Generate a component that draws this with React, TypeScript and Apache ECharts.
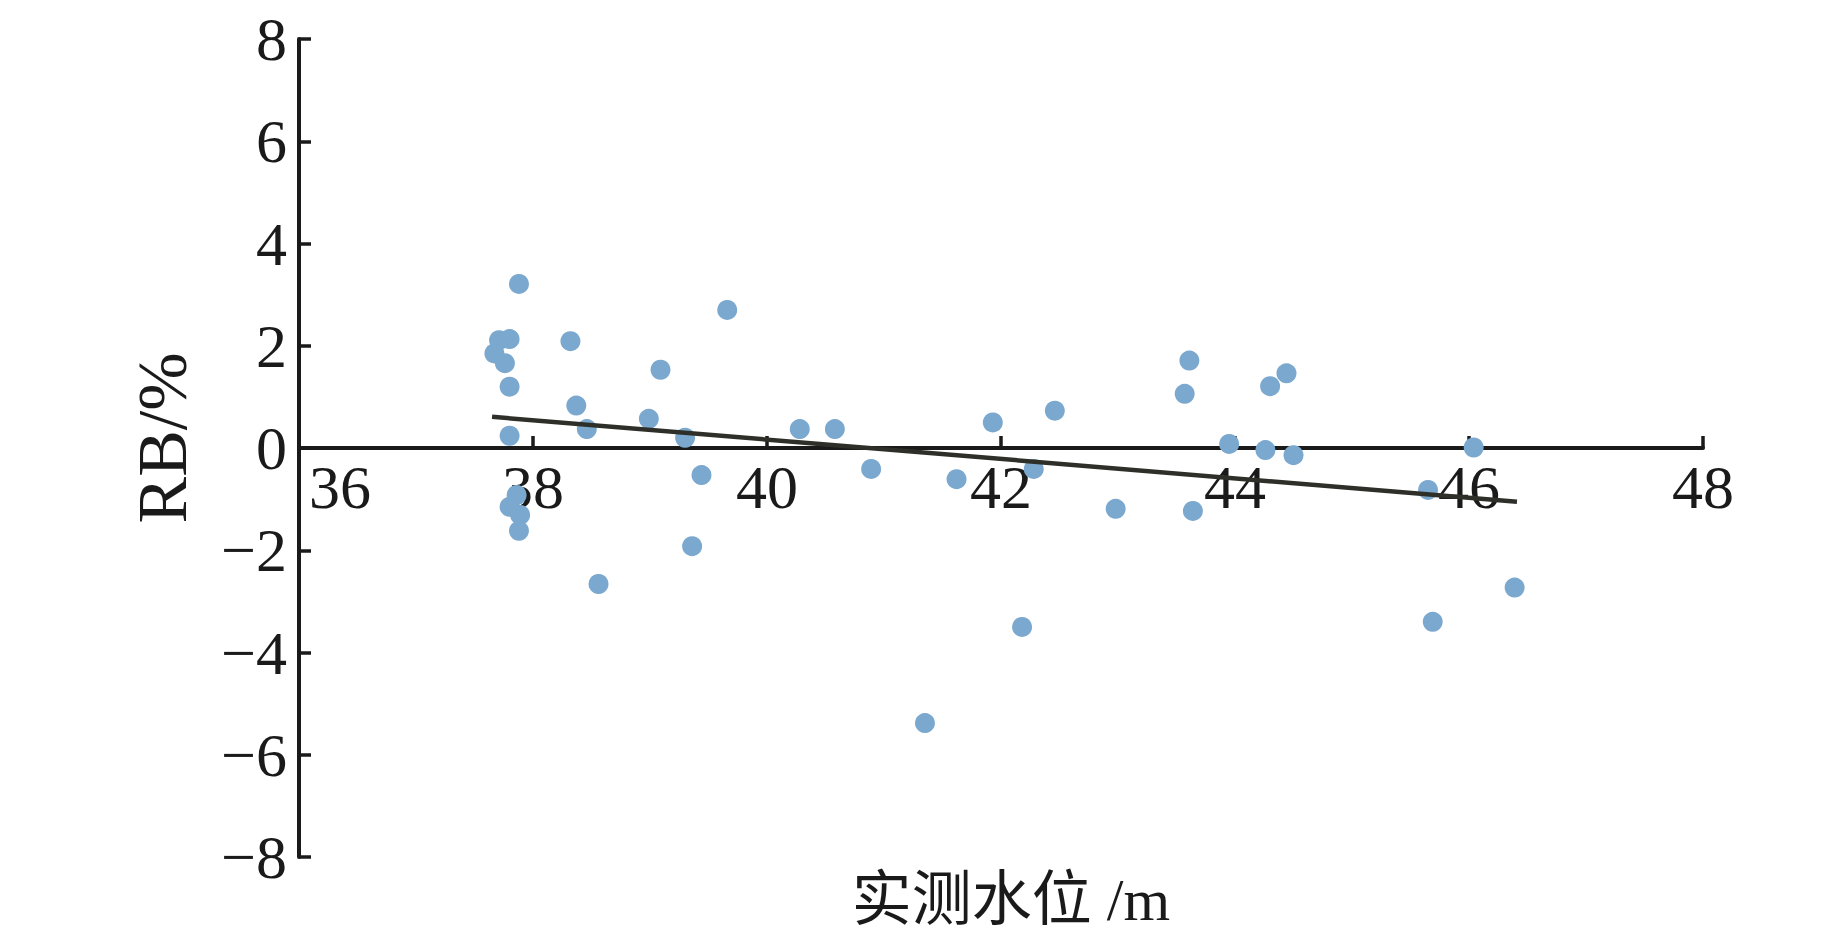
import React, { useEffect, useRef } from "react";
import * as echarts from "echarts";

// Measured water level (m) and relative bias RB (%)
const waterLevel = [
  37.88, 37.71, 37.8, 37.67, 37.76, 37.8, 37.8, 37.86, 37.8, 37.89, 37.88,
  38.32, 38.37, 38.46, 38.56, 38.99, 39.09, 39.3, 39.36, 39.44, 39.66,
  40.28, 40.58, 40.89, 41.35, 41.62, 41.93, 42.18, 42.28, 42.46, 42.98,
  43.57, 43.61, 43.64, 43.95, 44.26, 44.3, 44.44, 44.5, 45.65, 45.69, 46.04, 46.39,
];
const rbValues = [
  3.21, 2.11, 2.13, 1.85, 1.66, 1.2, 0.24, -0.92, -1.15, -1.31, -1.62,
  2.09, 0.83, 0.37, -2.66, 0.57, 1.53, 0.2, -1.92, -0.53, 2.7,
  0.37, 0.37, -0.41, -5.38, -0.61, 0.5, -3.5, -0.41, 0.73, -1.19,
  1.06, 1.71, -1.23, 0.08, -0.04, 1.21, 1.46, -0.14, -0.82, -3.4, 0.01, -2.73,
];
// Trend line end points
const trendX = [37.65, 46.41];
const trendY = [0.61, -1.05];

const xTitle = "实测水位 /m";
const yTitle = "RB/%";

const SERIF = '"Liberation Serif", "Times New Roman", "Noto Sans CJK SC", serif';

const GRID_TOP = 39;
const GRID_BOTTOM = 88;
const CHART_H = 945;
const Y_MIN = -8;
const Y_MAX = 8;

export default function App() {
  const ref = useRef<HTMLDivElement>(null);
  useEffect(() => {
    if (!ref.current) return;
    const chart = echarts.init(ref.current, null, { renderer: "svg" });
    const axisColor = "#1a1a1a";
    // move the x axis up to the zero line of the y axis
    const plotH = CHART_H - GRID_TOP - GRID_BOTTOM;
    const zeroOffset = -(plotH * (0 - Y_MIN)) / (Y_MAX - Y_MIN);
    chart.setOption({
      animation: false,
      backgroundColor: "#ffffff",
      grid: { left: 299, right: 140, top: GRID_TOP, bottom: GRID_BOTTOM, outerBoundsMode: "none" },
      xAxis: {
        type: "value",
        min: 36,
        max: 48,
        interval: 2,
        offset: zeroOffset,
        name: xTitle,
        nameLocation: "middle",
        nameGap: 422,
        nameTextStyle: { fontFamily: SERIF, fontSize: 60, lineHeight: 60, color: axisColor, padding: [0, 0, 0, 20] },
        axisLine: { onZero: false, lineStyle: { color: axisColor, width: 4 } },
        axisTick: { inside: true, length: 12, lineStyle: { color: axisColor, width: 3.5 } },
        axisLabel: {
          margin: 8,
          fontFamily: SERIF,
          fontSize: 62,
          color: axisColor,
          formatter: (v: number) => (v === 36 ? "{f|36}" : String(v)),
          rich: {
            f: { padding: [0, 0, 0, 82], fontFamily: SERIF, fontSize: 62, color: axisColor },
          },
        },
        splitLine: { show: false },
      },
      yAxis: {
        type: "value",
        min: Y_MIN,
        max: Y_MAX,
        interval: 2,
        name: yTitle,
        nameLocation: "middle",
        nameGap: 102,
        nameTextStyle: { fontFamily: SERIF, fontSize: 70, color: axisColor, padding: [0, 0, 0, 20] },
        axisLine: { onZero: false, lineStyle: { color: axisColor, width: 4 } },
        axisTick: { inside: true, length: 12, lineStyle: { color: axisColor, width: 3.5 } },
        axisLabel: {
          margin: 12,
          fontFamily: SERIF,
          fontSize: 62,
          color: axisColor,
          formatter: (v: number) => String(v).replace("-", "\u2212"),
        },
        splitLine: { show: false },
      },
      series: [
        {
          type: "scatter",
          data: waterLevel.map((x, i) => [x, rbValues[i]]),
          symbolSize: 20,
          itemStyle: { color: "#7ba8ce", opacity: 1 },
          z: 2,
        },
        {
          type: "line",
          data: trendX.map((x, i) => [x, trendY[i]]),
          showSymbol: false,
          symbol: "none",
          lineStyle: { color: "#2f2f2a", width: 4.5 },
          z: 3,
        },
      ],
    });
    return () => chart.dispose();
  }, []);
  return (
    <div
      ref={ref}
      style={{ position: "fixed", left: 0, top: 0, width: "1843px", height: "945px", background: "#fff" }}
    />
  );
}
